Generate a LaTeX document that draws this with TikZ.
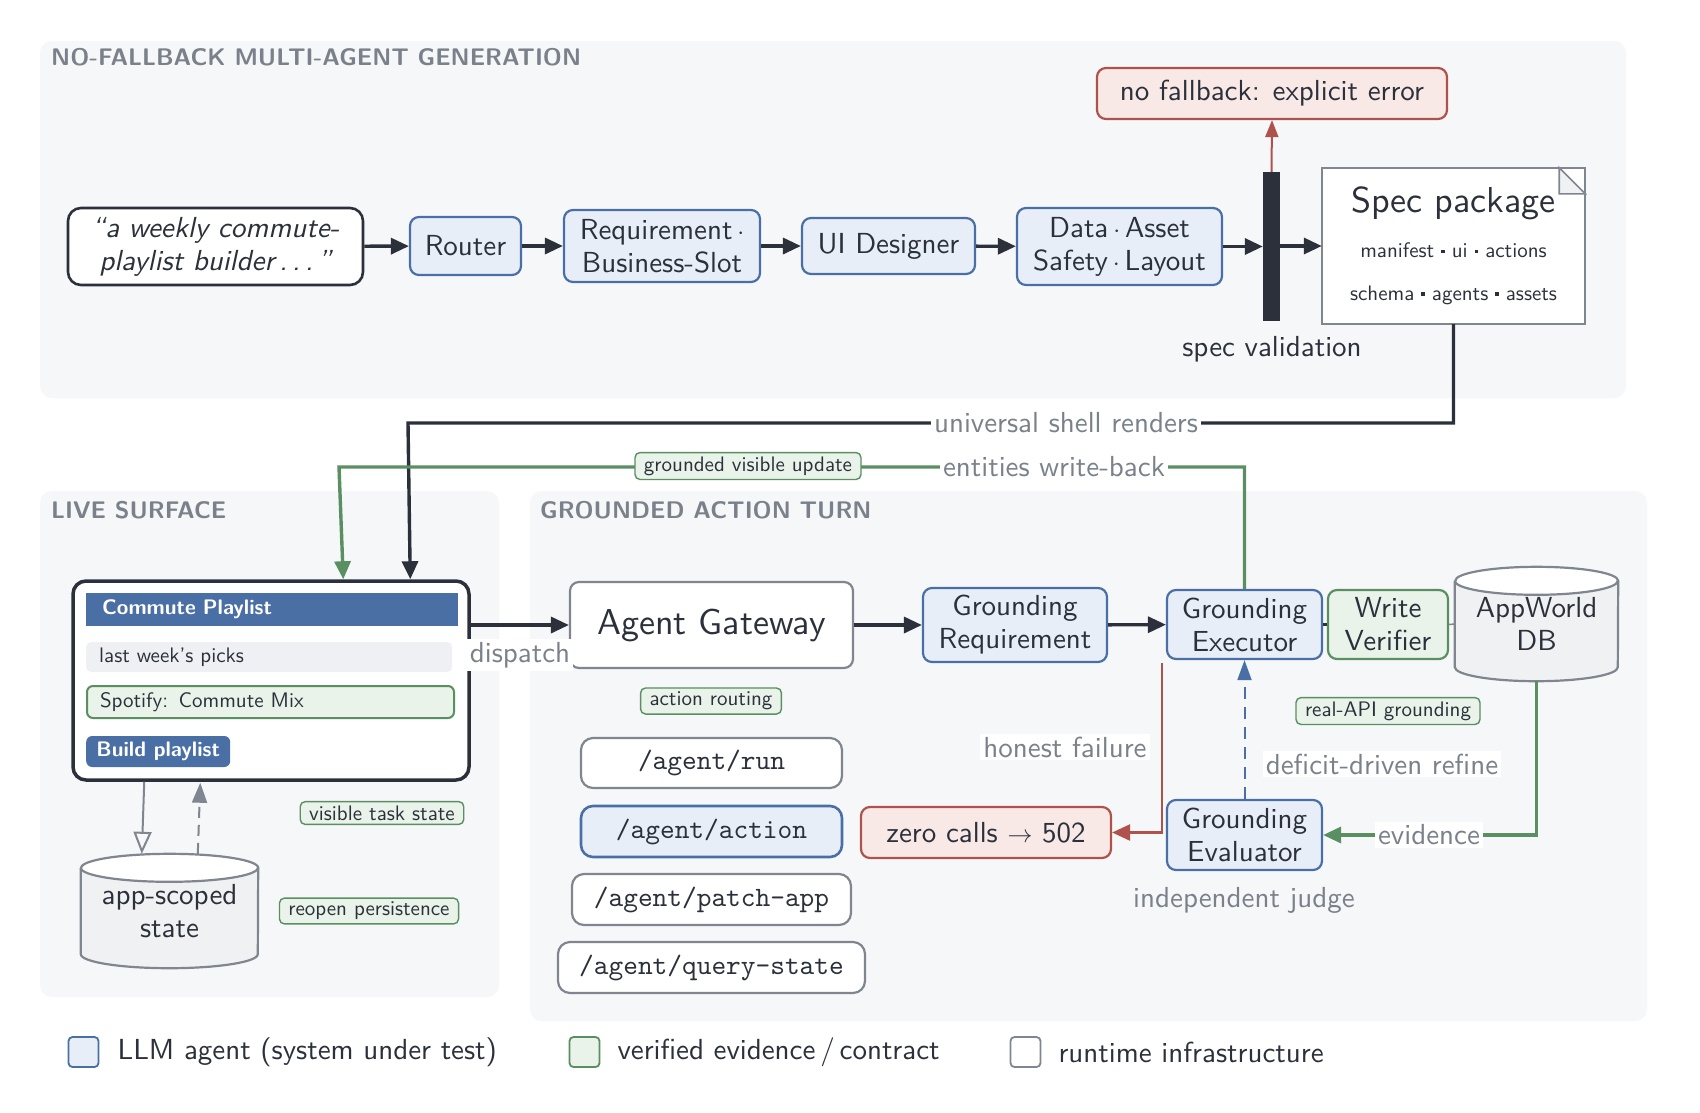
\documentclass[tikz,border=0pt]{standalone}
\usepackage{fontspec}
\setsansfont{lmsans10-regular.otf}[BoldFont=lmsans10-bold.otf, ItalicFont=lmsans10-oblique.otf, BoldItalicFont=lmsans10-boldoblique.otf]
\setmonofont{lmmono10-regular.otf}
\renewcommand{\familydefault}{\sfdefault}
\usetikzlibrary{arrows.meta, calc}
\definecolor{ink}{HTML}{2B303B}
\definecolor{agentB}{HTML}{4A6FA5}
\definecolor{agentF}{HTML}{E8EEF7}
\definecolor{evB}{HTML}{5A8F62}
\definecolor{evF}{HTML}{E9F3EA}
\definecolor{errB}{HTML}{B0524C}
\definecolor{errF}{HTML}{F8E9E7}
\definecolor{infB}{HTML}{80868F}
\definecolor{muted}{HTML}{7B818A}
\definecolor{panel}{HTML}{F6F7F9}
\definecolor{cylF}{HTML}{F0F1F3}
\definecolor{rowF}{HTML}{EEF0F3}
\newcommand\fmain{\fontsize{29}{33}\selectfont}
\newcommand\fbig{\fontsize{36}{40}\selectfont}
\newcommand\fsmall{\fontsize{21}{24}\selectfont}
\newcommand\ftitle{\fontsize{24}{28}\selectfont\bfseries}
\newcommand\fcode{\fontsize{28}{32}\selectfont\ttfamily}
\newcommand\sq{\ \raisebox{0.2em}{\rule{0.17em}{0.17em}}\ }
\newcommand\cylbody[3]{%
  \fill[cylF] ($(#1.north west)+(0,#2)$) -- ($(#1.south west)+(0,-#2)$)
     arc[start angle=180,end angle=360,x radius=#3,y radius=#2pt]
     -- ($(#1.north east)+(0,#2)$)
     arc[start angle=0,end angle=180,x radius=#3,y radius=#2pt] -- cycle;
  \fill[white] ($(#1.north west)+(0,#2)$)
     arc[start angle=180,end angle=540,x radius=#3,y radius=#2pt];
  \draw[infB, line width=2.2pt] ($(#1.north west)+(0,#2)$) -- ($(#1.south west)+(0,-#2)$)
     arc[start angle=180,end angle=360,x radius=#3,y radius=#2pt]
     -- ($(#1.north east)+(0,#2)$)
     arc[start angle=0,end angle=180,x radius=#3,y radius=#2pt];
  \draw[infB, line width=2.2pt] ($(#1.north west)+(0,#2)$)
     arc[start angle=180,end angle=360,x radius=#3,y radius=#2pt];}
\tikzset{
  box/.style={rounded corners=9pt, line width=2.2pt, align=center, inner sep=2pt, font=\fmain, text=ink},
  agentbox/.style={box, draw=agentB, fill=agentF},
  evbox/.style={box, draw=evB, fill=evF},
  infbox/.style={box, draw=infB, fill=white},
  errbox/.style={box, draw=errB, fill=errF},
  chip/.style={rounded corners=5pt, draw=evB, fill=evF, line width=1.4pt, font=\fsmall, inner xsep=9pt, inner ysep=4pt, text=ink},
  lbl/.style={font=\fmain, text=muted, fill=white, inner sep=3pt},
  flow/.style={draw=ink, line width=3.4pt, -{Triangle[length=18pt,width=16pt]}},
  evflow/.style={draw=evB, line width=3.4pt, -{Triangle[length=18pt,width=16pt]}},
  errflow/.style={draw=errB, line width=2.5pt, -{Triangle[length=18pt,width=16pt]}},
  ptitle/.style={font=\ftitle, text=muted, anchor=west, inner xsep=0pt},
  panelbg/.style={fill=panel, rounded corners=12pt},
  legsq/.style={minimum width=30pt, minimum height=30pt, rounded corners=4pt, line width=1.8pt, inner sep=0pt},
  legtxt/.style={font=\fmain, text=ink, anchor=west},
}
\begin{document}
\begin{tikzpicture}[x=1pt,y=-1pt]
\useasboundingbox[fill=white] (0,0) rectangle (1700,1112);
% panels
\fill[panelbg] (40,41) rectangle (1626,398);
\fill[panelbg] (40,491) rectangle (499,997);
\fill[panelbg] (530,491) rectangle (1647,1021);
\node[ptitle] (t1) at (51,57) {NO-FALLBACK MULTI-AGENT GENERATION};
\node[ptitle] (t2) at (51,510) {LIVE SURFACE};
\node[ptitle] (t3) at (540,510) {GROUNDED ACTION TURN};

% top row
\node[box, draw=ink, fill=white, line width=2.6pt, rounded corners=13pt, minimum width=295, minimum height=77, font=\fmain\itshape] (prompt) at (215.5,246.5) {“a weekly commute-\\playlist builder\,.\,.\,.\,”};
\node[agentbox, minimum width=111, minimum height=58] (router) at (465.5,246) {Router};
\node[agentbox, minimum width=196, minimum height=72] (req) at (662,246) {Requirement\,$\cdot$\\Business-Slot};
\node[agentbox, minimum width=173, minimum height=56] (uid) at (888.5,246) {UI Designer};
\node[agentbox, minimum width=205, minimum height=77] (data) at (1119.5,246.5) {Data\,$\cdot$\,Asset\\Safety\,$\cdot$\,Layout};
\node[fill=ink, minimum width=17, minimum height=149, inner sep=0pt] (bar) at (1271.5,246.5) {};
\node[fill=white, minimum width=263, minimum height=156, inner sep=0pt] (spec) at (1453.5,246) {};
\draw[infB, line width=2.2pt] (spec.north west) rectangle (spec.south east);
\filldraw[fill=cylF, draw=infB, line width=1.6pt] ($(spec.north east)+(-26,0)$) -- ($(spec.north east)+(-26,26)$) -- ($(spec.north east)+(0,26)$) -- cycle;
\node[font=\fbig, text=ink] (spect) at (1453.5,203) {Spec package};
\node[font=\fsmall, text=ink] (specl1) at (1453.5,250) {manifest\sq ui\sq actions};
\node[font=\fsmall, text=ink] (specl2) at (1453.5,295) {schema\sq agents\sq assets};
\node[errbox, minimum width=350, minimum height=51] (nofb) at (1272,93.5) {no fallback: explicit error};
\node[font=\fmain, text=ink] (specval) at (1272,349) {spec validation};

\draw[flow] (prompt) -- (router);
\draw[flow] (router) -- (req);
\draw[flow] (req) -- (uid);
\draw[flow] (uid) -- (data);
\draw[flow] (data.east) -- (data.east -| bar.west);
\draw[flow] (bar.east |- spec.west) -- (spec.west);
\draw[errB, line width=2pt, -{Triangle[length=17pt,width=13pt]}] (bar.north) -- (nofb.south);

% live surface
\node[draw=ink, fill=white, line width=3.5pt, rounded corners=13pt, minimum width=396, minimum height=199, inner sep=0pt] (mock) at (271,680.5) {};
\node[fill=agentB, anchor=west, text width=340pt, inner xsep=16pt, minimum height=33, text=white, font=\fsmall\bfseries, align=left] (hdr) at (86,609.5) {Commute Playlist};
\node[fill=rowF, rounded corners=5pt, anchor=west, text width=340pt, inner xsep=13pt, minimum height=30, text=ink, font=\fsmall, align=left] (row1) at (86,657) {last week's picks};
\node[fill=evF, draw=evB, line width=2pt, rounded corners=6pt, anchor=west, text width=341pt, inner xsep=13pt, minimum height=32, text=ink, font=\fsmall, align=left] (row2) at (86,702) {Spotify: Commute Mix};
\node[fill=agentB, rounded corners=6pt, anchor=west, minimum width=144, minimum height=31, text=white, font=\fsmall\bfseries, inner sep=2pt] (btn) at (86,751.5) {Build playlist};

\node[minimum width=177, minimum height=114, inner sep=0pt] (app) at (169.5,911) {};
\cylbody{app}{14}{88.5pt}
\node[font=\fmain, align=center, text=ink] (appt) at (app.center) {app-scoped\\state};
\draw[infB, line width=2pt, -{Triangle[open, length=22pt, width=18pt]}] ($(mock.south west)+(73,0)$) -- ($(app.north west)+(61,0)$);
\draw[infB, line width=2pt, dash pattern=on 11pt off 7pt, -{Triangle[length=20pt, width=15pt]}] ($(app.north west)+(117,0)$) -- ($(mock.south west)+(129,1)$);
\node[chip] (vts) at (382,813) {visible task state};
\node[chip] (rp) at (369,911) {reopen persistence};

% grounded action turn
\node[infbox, minimum width=283, minimum height=86, font=\fbig] (gw) at (711.5,625) {Agent Gateway};
\draw[flow] (mock.east |- gw.west) -- (gw.west);
\node[lbl] (disp) at (520,655) {dispatch};
\node[chip] (ar) at (711,701) {action routing};
\node[infbox, minimum width=261, minimum height=50, font=\fcode, rounded corners=12pt] (ep1) at (711.5,763) {/agent/run};
\node[agentbox, minimum width=261, minimum height=51, font=\fcode, rounded corners=12pt, line width=2.6pt] (ep2) at (711.5,831.5) {/agent/action};
\node[infbox, minimum width=279, minimum height=51, font=\fcode, rounded corners=12pt] (ep3) at (711.5,899.5) {/agent/patch-app};
\node[infbox, minimum width=307, minimum height=51, font=\fcode, rounded corners=12pt] (ep4) at (711.5,967.5) {/agent/query-state};

\node[agentbox, minimum width=184, minimum height=74] (greq) at (1015,625) {Grounding\\Requirement};
\node[agentbox, minimum width=155, minimum height=69] (gexec) at (1244.5,624.5) {Grounding\\Executor};
\node[evbox, minimum width=120, minimum height=69] (wver) at (1388,624.5) {Write\\Verifier};
\node[minimum width=163, minimum height=114, inner sep=0pt] (db) at (1536.5,624) {};
\cylbody{db}{14}{81.5pt}
\node[font=\fmain, align=center, text=ink] (dbt) at (db.center) {AppWorld\\DB};
\node[agentbox, minimum width=155, minimum height=70] (geval) at (1244.5,835) {Grounding\\Evaluator};
\node[errbox, minimum width=250, minimum height=51] (zero) at (986,832.5) {zero calls $\rightarrow$ 502};

\draw[flow] (gw) -- (greq);
\draw[flow] (greq) -- (gexec);
\draw[ink, line width=3pt] (gexec.east) -- (wver.west);
\draw[infB, line width=1.5pt] (wver.east) -- (db.west);
\draw[agentB, line width=2pt, dash pattern=on 12pt off 8pt, -{Triangle[length=20pt,width=14pt]}] (geval.north) -- (gexec.south);
\node[lbl] (ddr) at (1382,764) {deficit-driven refine};
\draw[errflow] ($(gexec.south west)+(-4,3)$) |- (zero.east);
\node[lbl] (hf) at (1065,747) {honest failure};
\draw[evflow] (db.south) |- (geval.east);
\node[lbl] (evd) at (1429,835) {evidence};
\node[chip] (rag) at (1388,711) {real-API grounding};
\node[font=\fmain, text=muted] (ij) at (1244,900) {independent judge};

% long connectors
\coordinate (c1) at (408,423);
\coordinate (c2) at ($(mock.north west)+(339,0)$);
\draw[flow] (spec.south) |- (c1) -- (c2);
\node[lbl] (usr) at (1066,423) {universal shell renders};
\coordinate (c3) at (339,467);
\coordinate (c4) at ($(mock.north west)+(272,0)$);
\draw[evflow] (gexec.north) |- (c3) -- (c4);
\node[lbl] (ewb) at (1054,467) {entities write-back};
\node[chip] (gvu) at (748,466) {grounded visible update};

% legend
\node[legsq, fill=agentF, draw=agentB] (l1) at (83.5,1052) {};
\node[legtxt] (l1t) at (114,1052) {LLM agent (system under test)};
\node[legsq, fill=evF, draw=evB] (l2) at (584.5,1052) {};
\node[legtxt] (l2t) at (614,1052) {verified evidence\,/\,contract};
\node[legsq, fill=white, draw=infB] (l3) at (1025.5,1052) {};
\node[legtxt] (l3t) at (1055,1052) {runtime infrastructure};
\end{tikzpicture}
\end{document}
